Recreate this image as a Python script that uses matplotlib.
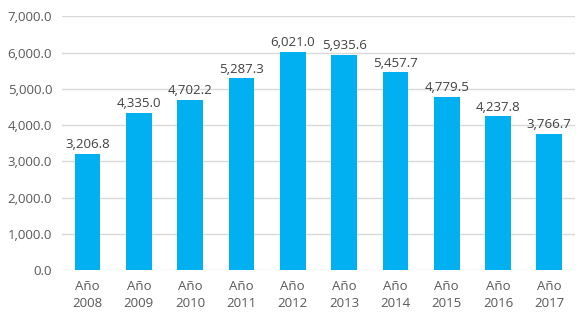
import numpy as np
import matplotlib.pyplot as plt

plt.rcParams['font.family'] = ['Open Sans', 'DejaVu Sans']

years = ["2008", "2009", "2010", "2011", "2012", "2013", "2014", "2015", "2016", "2017"]
values = [3206.8, 4335.0, 4702.2, 5287.3, 6021.0, 5935.6, 5457.7, 4779.5, 4237.8, 3766.7]
labels = ["Año\n" + y for y in years]

fig = plt.figure(figsize=(5.79, 3.27), dpi=100)
ax = fig.add_axes([0.107, 0.174, 0.886, 0.776])

x = np.arange(len(years))
bars = ax.bar(x, values, width=0.5, color="#00B0F0", zorder=3)

for xi, v in zip(x, values):
    ax.text(xi, v + 70, f"{v:,.1f}", ha="center", va="bottom",
            fontsize=9.5, color="#404040", zorder=4)

ax.set_xlim(-0.5, len(years) - 0.5)
ax.set_ylim(0, 7000)
ax.set_yticks(np.arange(0, 7001, 1000))
ax.set_yticklabels([f"{t:,.1f}" for t in np.arange(0, 7001, 1000)])
ax.set_xticks(x)
ax.set_xticklabels(labels, linespacing=1.4)

ax.grid(axis="y", color="#D9D9D9", linewidth=1, zorder=0)
for s in ax.spines.values():
    s.set_visible(False)
ax.tick_params(axis="both", length=0, labelsize=9.5, colors="#595959")
ax.tick_params(axis="y", pad=7)
ax.tick_params(axis="x", pad=7)

fig.savefig("out.png", dpi=100)
